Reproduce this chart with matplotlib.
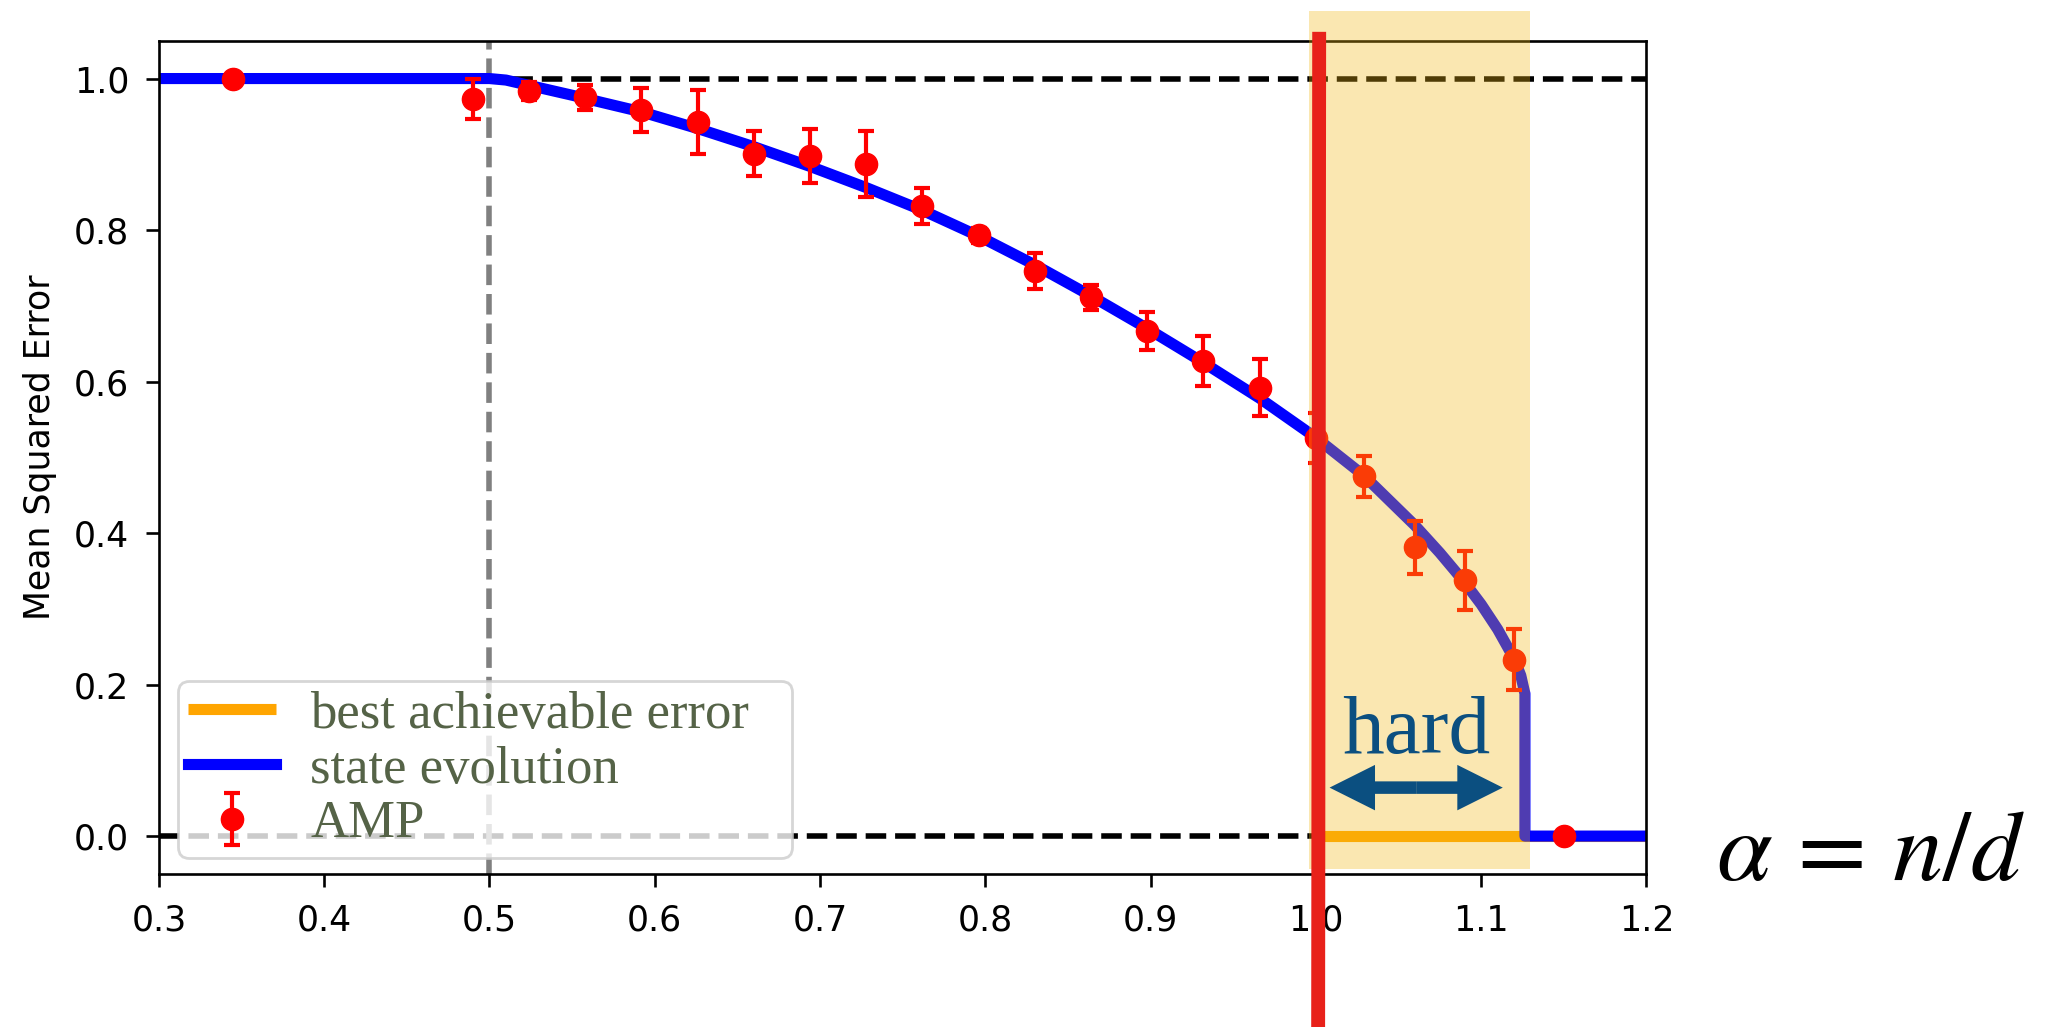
import matplotlib
matplotlib.use('Agg')
import matplotlib.pyplot as plt
import matplotlib.patches as mpatches
from matplotlib.lines import Line2D

plt.rcParams['mathtext.fontset'] = 'stix'

# ---- data ----
amp_alpha = [0.345, 0.490, 0.524, 0.558, 0.592, 0.626, 0.660, 0.694, 0.728, 0.762, 0.796,
             0.830, 0.864, 0.898, 0.932, 0.966, 1.000, 1.029, 1.060, 1.090, 1.120, 1.150]
amp_mse = [1.000, 0.973, 0.984, 0.975, 0.959, 0.943, 0.901, 0.898, 0.887, 0.832, 0.793,
           0.746, 0.711, 0.667, 0.627, 0.592, 0.526, 0.475, 0.381, 0.338, 0.233, 0.000]
amp_err = [0.003, 0.026, 0.012, 0.016, 0.029, 0.042, 0.030, 0.036, 0.044, 0.024, 0.010,
           0.024, 0.017, 0.025, 0.033, 0.038, 0.033, 0.027, 0.035, 0.039, 0.040, 0.003]

se_alpha = [0.30, 0.50, 0.51, 0.52, 0.55, 0.567, 0.592, 0.626, 0.660, 0.694, 0.728, 0.762,
            0.796, 0.830, 0.864, 0.898, 0.932, 0.966, 1.000, 1.029, 1.060, 1.075, 1.090,
            1.100, 1.110, 1.120, 1.124, 1.1265, 1.1265, 1.20]
se_mse = [1.000, 1.000, 0.998, 0.993, 0.978, 0.969, 0.956, 0.934, 0.910, 0.884, 0.856, 0.826,
          0.792, 0.754, 0.713, 0.670, 0.625, 0.578, 0.526, 0.476, 0.410, 0.374, 0.335,
          0.306, 0.273, 0.234, 0.212, 0.188, 0.000, 0.000]

best_alpha = [1.0, 1.2]
best_mse = [0.0, 0.0]

xticks = [0.3, 0.4, 0.5, 0.6, 0.7, 0.8, 0.9, 1.0, 1.1, 1.2]
xticklabels = ['0.3', '0.4', '0.5', '0.6', '0.7', '0.8', '0.9', '1.0', '1.1', '1.2']
yticks = [0.0, 0.2, 0.4, 0.6, 0.8, 1.0]
yticklabels = ['0.0', '0.2', '0.4', '0.6', '0.8', '1.0']

hard_span = (0.996, 1.1295)
HARD_COLOR = '#0b4f80'

# ---- figure ----
fig = plt.figure(figsize=(20.58, 10.27), dpi=100)
ax = fig.add_axes([0.0772, 0.1490, 0.7228, 0.8114])

ax.axhline(1.0, color='k', ls='--', lw=4, zorder=1)
ax.axhline(0.0, color='k', ls='--', lw=4, zorder=1)
ax.axvline(0.5, color='gray', ls='--', lw=4, zorder=1)

ax.plot(best_alpha, best_mse, color='orange', lw=8, label='best achievable error',
        zorder=2, solid_capstyle='butt')
ax.plot(se_alpha, se_mse, color='blue', lw=8, label='state evolution', zorder=2.2,
        solid_joinstyle='round')
ax.errorbar(amp_alpha, amp_mse, yerr=amp_err, fmt='o', color='red', ms=16,
            elinewidth=3, capsize=6, capthick=3, label='AMP', zorder=3)

ax.add_patch(mpatches.Rectangle((hard_span[0], -0.044), hard_span[1] - hard_span[0], 1.133,
                                facecolor=(242/255, 185/255, 20/255), alpha=0.33, lw=0,
                                clip_on=False, zorder=3.5))

ax.set_xlim(0.3, 1.2)
ax.set_ylim(-0.05, 1.05)
ax.set_xticks(xticks)
ax.set_xticklabels(xticklabels)
ax.set_yticks(yticks)
ax.set_yticklabels(yticklabels)
ax.tick_params(labelsize=25, length=9.5, width=1.9, pad=12)
for s in ax.spines.values():
    s.set_linewidth(1.9)
ax.set_ylabel('Mean Squared Error', fontsize=25, labelpad=12)
ax.yaxis.label.set_y(0.512)

leg = ax.legend(loc='lower left', bbox_to_anchor=(0.0129, 0.0192, 0.4127, 0.2148),
                mode='expand', borderaxespad=0,
                prop={'family': 'Liberation Serif', 'size': 38},
                handlelength=1.67, handletextpad=0.65, borderpad=0.18,
                labelspacing=0.13, framealpha=0.8, edgecolor='#cccccc', fancybox=True)
for t in leg.get_texts():
    t.set_color('#556347')
leg.get_frame().set_linewidth(2)

ax.text(1.0609, 0.1095, 'hard', fontsize=60, family='Liberation Serif', color=HARD_COLOR,
        ha='center', va='baseline', zorder=6)
arrow_y = 0.064
arrow_mid = (1.0083 + 1.1131) / 2
for x_end in (1.0083, 1.1131):
    ax.add_patch(mpatches.FancyArrow(arrow_mid, arrow_y, x_end - arrow_mid, 0,
                                     width=0.0165, head_width=0.060, head_length=0.0275,
                                     length_includes_head=True, color=HARD_COLOR,
                                     lw=0, zorder=6))

fig.add_artist(Line2D([0.641, 0.6405], [0.969, 0.0], transform=fig.transFigure,
                      color='#e8211a', lw=10, zorder=10, solid_capstyle='butt'))

fig.text(0.8338, 0.143, r'$\alpha\,=\,n/d$', fontsize=72, ha='left', va='baseline')

fig.savefig('out.png', dpi=100)
